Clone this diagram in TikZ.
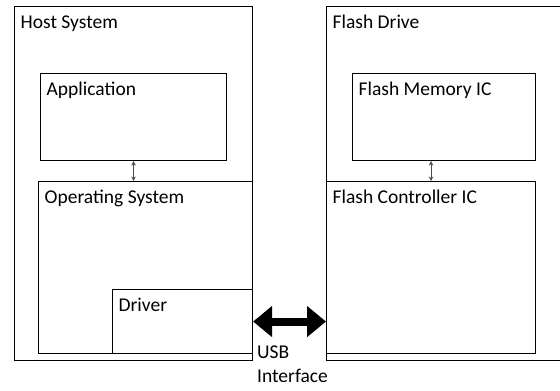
\documentclass[tikz,border=0pt]{standalone}
\usepackage{fontspec}
\setmainfont{Carlito}
\usetikzlibrary{positioning,arrows.meta}

\tikzset{
  box/.style={draw, line width=1.1pt, anchor=north west, inner sep=0pt},
  lbl/.style={anchor=base west, inner sep=0pt, font=\fontsize{19.5}{24}\selectfont},
  link/.style={draw=black!70, line width=0.9pt, {Stealth[length=4.5pt,width=4.5pt]}-{Stealth[length=4.5pt,width=4.5pt]}},
  usb/.style={line width=8pt, {Triangle[length=19pt,width=30pt]}-{Triangle[length=19pt,width=30pt]}}
}

\begin{document}
\begin{tikzpicture}[x=1pt, y=-1pt]
  \useasboundingbox (0,0) rectangle (560,391);

  % host side
  \node[box, minimum width=238pt, minimum height=354pt] (host) at (14,6) {};
  \node[box, minimum width=186pt, minimum height=87pt] (app) at (40,73) {};
  \node[box, minimum width=214pt, minimum height=172pt] (os) at (38,181) {};
  \node[box, minimum width=140pt, minimum height=64pt] (driver) at (112,289) {};

  % flash side
  \node[box, minimum width=236pt, minimum height=354pt] (flash) at (326,6) {};
  \node[box, minimum width=183pt, minimum height=87pt] (mem) at (352,73) {};
  \node[box, minimum width=209pt, minimum height=172pt] (ctrl) at (326,181) {};

  % labels
  \node[lbl] (hostlbl) at ([shift={(6.5,22)}]host.north west) {Host System};
  \node[lbl] (applbl) at ([shift={(6.5,22)}]app.north west) {Application};
  \node[lbl] (oslbl) at ([shift={(6.5,22)}]os.north west) {Operating System};
  \node[lbl] (drvlbl) at ([shift={(6.5,22)}]driver.north west) {Driver};
  \node[lbl] (flashlbl) at ([shift={(6.5,22)}]flash.north west) {Flash Drive};
  \node[lbl] (memlbl) at ([shift={(6.5,22)}]mem.north west) {Flash Memory IC};
  \node[lbl] (ctrllbl) at ([shift={(6.5,22)}]ctrl.north west) {Flash Controller IC};
  \node[lbl, align=left, anchor=north west] (usblbl) at (257,346) {USB\\Interface};

  % connectors
  \draw[link] (app.south) -- (app.south |- os.north);
  \draw[link] (ctrl.north) -- (ctrl.north |- mem.south);
  \draw[usb] (driver.east) -- (driver.east -| ctrl.west);
\end{tikzpicture}
\end{document}
